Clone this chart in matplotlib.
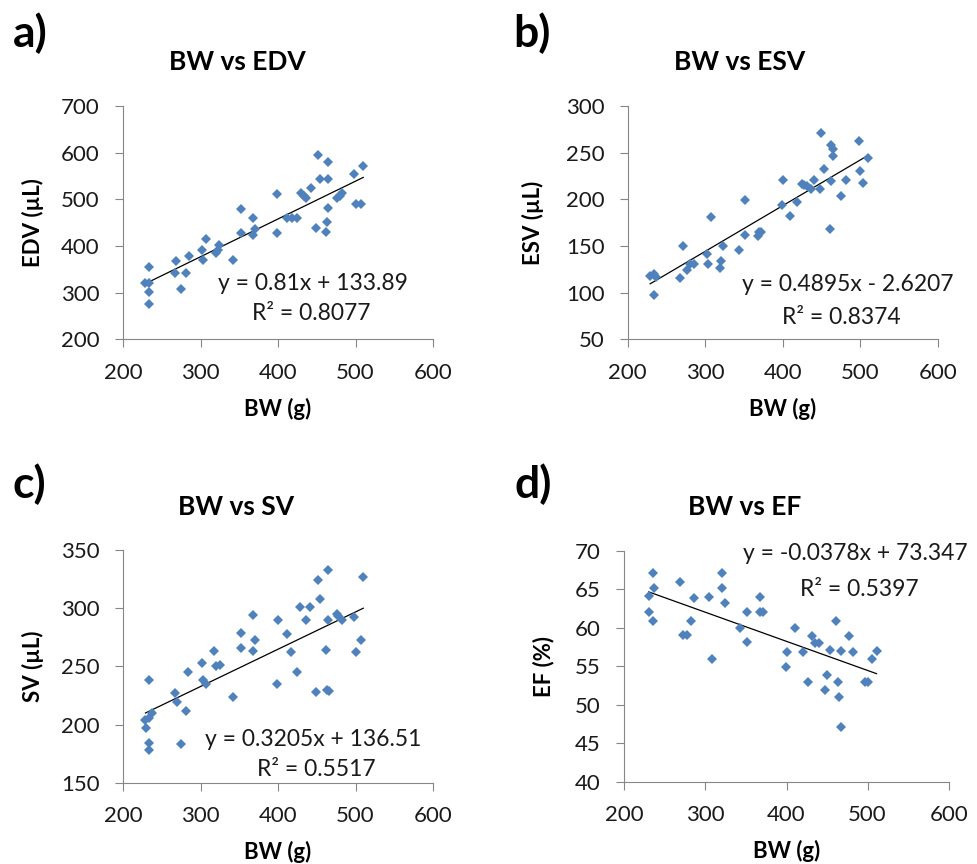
import numpy as np
import matplotlib
matplotlib.use('Agg')
import matplotlib.pyplot as plt

plt.rcParams['font.family'] = ['Lato', 'DejaVu Sans']

MARKER_COLOR = '#4F81BD'
AXIS_COLOR = '#868686'

# panel a: BW vs EDV
bw_a = [233, 228, 234, 233, 233, 269, 267, 281, 285, 275, 302, 303, 307, 320, 322, 324,
        342, 352, 352, 368, 368, 370, 399, 399, 411, 418, 425, 430, 433, 436, 442, 451,
        449, 454, 464, 465, 465, 463, 462, 476, 480, 483, 498, 500, 507, 510]
edv = [356, 320, 321, 302, 275, 368, 343, 343, 379, 308, 391, 370, 415, 384, 391, 402,
       370, 479, 427, 461, 424, 436, 511, 427, 461, 461, 461, 513, 507, 502, 524, 596,
       439, 543, 543, 581, 481, 452, 431, 502, 507, 513, 554, 491, 489, 571]

# panel b: BW vs ESV
bw_b = [229, 234, 237, 234, 268, 271, 276, 280, 286, 302, 303, 307, 319, 321, 323, 343,
        351, 351, 368, 370, 372, 400, 399, 409, 418, 425, 428, 431, 437, 441, 448, 450,
        453, 462, 465, 465, 462, 461, 475, 482, 498, 500, 504, 510]
esv = [118, 120, 117, 98, 116, 150, 124, 131, 131, 141, 131, 181, 126, 134, 150, 146,
       199, 162, 161, 165, 165, 221, 194, 182, 197, 216, 215, 214, 211, 221, 211, 271,
       232, 258, 254, 246, 220, 168, 204, 221, 262, 230, 217, 244]

# panel c: BW vs SV
bw_c = [234, 229, 233, 237, 230, 234, 234, 267, 270, 281, 275, 284, 302, 303, 307, 318,
        320, 325, 342, 352, 352, 368, 368, 370, 399, 400, 412, 417, 425, 429, 436, 441,
        449, 451, 454, 465, 465, 462, 463, 466, 476, 478, 483, 498, 500, 507, 510]
sv = [238, 204, 206, 210, 197, 184, 178, 227, 219, 212, 183, 245, 253, 238, 235, 263,
      250, 251, 224, 279, 266, 294, 263, 273, 235, 290, 278, 262, 245, 301, 290, 301,
      228, 324, 308, 333, 290, 264, 230, 229, 295, 293, 290, 292, 262, 273, 327]

# panel d: BW vs EF
bw_d = [236, 230, 237, 231, 236, 269, 272, 277, 282, 286, 305, 308, 320, 321, 324, 343,
        351, 351, 367, 367, 371, 399, 400, 411, 420, 426, 431, 435, 440, 447, 450, 454,
        461, 463, 465, 467, 467, 477, 482, 497, 500, 505, 511]
ef = [67.1, 64.1, 65.2, 62.1, 60.9, 66.0, 59.0, 59.0, 60.9, 63.9, 64.0, 56.0, 67.1, 65.1,
      63.2, 60.0, 58.1, 62.0, 64.0, 62.0, 62.0, 54.9, 56.9, 60.0, 56.9, 53.0, 58.9, 58.0,
      58.0, 51.9, 53.9, 57.1, 60.9, 53.0, 51.0, 47.1, 57.0, 58.9, 56.9, 53.0, 53.0, 56.0,
      57.0]

x_data = [bw_a, bw_b, bw_c, bw_d]
y_data = [edv, esv, sv, ef]
slopes = [0.81, 0.4895, 0.3205, -0.0378]
intercepts = [133.89, -2.6207, 136.51, 73.347]
equations = ['y = 0.81x + 133.89', 'y = 0.4895x - 2.6207',
             'y = 0.3205x + 136.51', 'y = -0.0378x + 73.347']
r_squared = ['R² = 0.8077', 'R² = 0.8374', 'R² = 0.5517', 'R² = 0.5397']
titles = ['BW vs EDV', 'BW vs ESV', 'BW vs SV', 'BW vs EF']
panel_labels = ['a)', 'b)', 'c)', 'd)']
y_labels = ['EDV (µL)', 'ESV (µL)', 'SV (µL)', 'EF (%)']
y_limits = [(200, 700), (50, 300), (150, 350), (40, 70)]
y_steps = [100, 50, 50, 5]
x_ticks = [200, 300, 400, 500, 600]

W, H = 977, 864
# plot-area boxes in pixels: left, top, right, bottom
boxes = [(123, 106, 433, 339.3), (627.7, 106, 937.7, 339.3),
         (123, 550, 433, 782.7), (624.3, 550.7, 948.7, 781.7)]
# text anchors in pixels
label_pos = [(13, 47), (513, 47), (13, 498), (515, 498)]
title_pos = [(237, 70), (740, 70), (236, 515), (745, 515)]
eq_pos = [(313, 290), (848, 291), (313, 746), (855, 560)]
r2_pos = [(311, 320), (841, 324), (316, 776), (859, 596)]
ylabel_x = [44, 544, 44, 554]

fig = plt.figure(figsize=(W / 100, H / 100), dpi=100)


def fx(px):
    return px / W


def fy(py):
    return 1 - py / H


for i in range(4):
    l, t, r, b = boxes[i]
    ax = fig.add_axes([fx(l), fy(b), fx(r - l), (b - t) / H])
    xs = np.array(x_data[i])
    ax.plot(xs, y_data[i], linestyle='none', marker='D', ms=5.3,
            color=MARKER_COLOR, markeredgewidth=0, zorder=3)
    line_x = np.array([xs.min(), xs.max()])
    ax.plot(line_x, slopes[i] * line_x + intercepts[i], color='black', lw=0.9, zorder=2)

    lo, hi = y_limits[i]
    ax.set_xlim(200, 600)
    ax.set_ylim(lo, hi)
    ax.set_xticks(x_ticks)
    ax.set_yticks(np.arange(lo, hi + 0.1, y_steps[i]))
    for side in ['top', 'right']:
        ax.spines[side].set_visible(False)
    for side in ['left', 'bottom']:
        ax.spines[side].set_color(AXIS_COLOR)
        ax.spines[side].set_linewidth(0.8)
    ax.tick_params(direction='out', length=5.8, width=0.8, color=AXIS_COLOR,
                   labelsize=16, pad=11, labelcolor='#1a1a1a')
    ax.patch.set_alpha(0)

    ax.set_xlabel('BW (g)', fontsize=16, fontweight='bold', labelpad=11)
    ax.set_ylabel(y_labels[i], fontsize=16, fontweight='bold')
    ax.yaxis.set_label_coords((ylabel_x[i] - l) / (r - l), 0.5)

    fig.text(fx(label_pos[i][0]), fy(label_pos[i][1]), panel_labels[i],
             fontsize=32, fontweight='bold', ha='left', va='baseline')
    fig.text(fx(title_pos[i][0]), fy(title_pos[i][1]), titles[i],
             fontsize=19, fontweight='bold', ha='center', va='baseline')
    fig.text(fx(eq_pos[i][0]), fy(eq_pos[i][1]), equations[i],
             fontsize=16.5, ha='center', va='baseline', color='#1a1a1a')
    fig.text(fx(r2_pos[i][0]), fy(r2_pos[i][1]), r_squared[i],
             fontsize=16.5, ha='center', va='baseline', color='#1a1a1a')

fig.savefig('out.png', dpi=100)
